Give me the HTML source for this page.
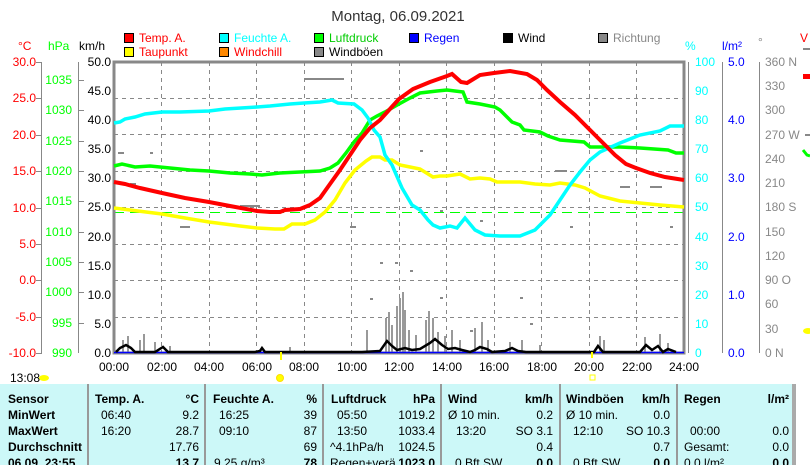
<!DOCTYPE html>
<html><head><meta charset="utf-8"><style>
body{margin:0;background:#fff;}
svg{display:block;font-family:"Liberation Sans",sans-serif;}
</style></head><body>
<svg width="810" height="465" viewBox="0 0 810 465" xmlns="http://www.w3.org/2000/svg">
<rect width="810" height="465" fill="#fff"/>
<text x="398" y="21" font-size="15" text-anchor="middle" fill="#333">Montag, 06.09.2021</text>
<!-- legend -->
<g font-size="12">
<rect x="124.5" y="33.5" width="9" height="9" fill="#f00" stroke="#000"/><text x="139" y="42" fill="#f00">Temp. A.</text>
<rect x="219.5" y="33.5" width="9" height="9" fill="#0ff" stroke="#000"/><text x="234" y="42" fill="#0ff">Feuchte A.</text>
<rect x="314.5" y="33.5" width="9" height="9" fill="#0f0" stroke="#000"/><text x="329" y="42" fill="#0c0">Luftdruck</text>
<rect x="409.5" y="33.5" width="9" height="9" fill="#00f" stroke="#000"/><text x="424" y="42" fill="#00f">Regen</text>
<rect x="503.5" y="33.5" width="9" height="9" fill="#000" stroke="#000"/><text x="518" y="42" fill="#000">Wind</text>
<rect x="598.5" y="33.5" width="9" height="9" fill="#888" stroke="#000"/><text x="613" y="42" fill="#888">Richtung</text>
<rect x="124.5" y="47.5" width="9" height="9" fill="#ff0" stroke="#000"/><text x="139" y="56" fill="#f00">Taupunkt</text>
<rect x="219.5" y="47.5" width="9" height="9" fill="#f80" stroke="#000"/><text x="234" y="56" fill="#f00">Windchill</text>
<rect x="314.5" y="47.5" width="9" height="9" fill="#888" stroke="#000"/><text x="329" y="56" fill="#000">Windböen</text>
</g>
<!-- axis units -->
<g font-size="12">
<text x="18" y="50" fill="#f00">°C</text><text x="48" y="50" fill="#0f0">hPa</text><text x="79" y="50" fill="#000">km/h</text>
<text x="685" y="50" fill="#0ff">%</text><text x="722" y="50" fill="#00f">l/m²</text><text x="758" y="46" fill="#888">°</text>
</g>
<!-- grid -->
<g stroke="#888" stroke-dasharray="4,4" stroke-width="1">
<line x1="114" y1="98.5" x2="684" y2="98.5"/><line x1="114" y1="134.5" x2="684" y2="134.5"/><line x1="114" y1="171.5" x2="684" y2="171.5"/><line x1="114" y1="207.5" x2="684" y2="207.5"/><line x1="114" y1="244.5" x2="684" y2="244.5"/><line x1="114" y1="280.5" x2="684" y2="280.5"/><line x1="114" y1="317.5" x2="684" y2="317.5"/>
<line x1="161.5" y1="62" x2="161.5" y2="353"/><line x1="209.5" y1="62" x2="209.5" y2="353"/><line x1="256.5" y1="62" x2="256.5" y2="353"/><line x1="304.5" y1="62" x2="304.5" y2="353"/><line x1="351.5" y1="62" x2="351.5" y2="353"/><line x1="399.5" y1="62" x2="399.5" y2="353"/><line x1="446.5" y1="62" x2="446.5" y2="353"/><line x1="494.5" y1="62" x2="494.5" y2="353"/><line x1="541.5" y1="62" x2="541.5" y2="353"/><line x1="589.5" y1="62" x2="589.5" y2="353"/><line x1="636.5" y1="62" x2="636.5" y2="353"/>
</g>
<line x1="114" y1="212.5" x2="684" y2="212.5" stroke="#0f0" stroke-dasharray="10,6"/>
<!-- frame -->
<rect x="114" y="62" width="570" height="291" fill="none" stroke="#888" stroke-width="3"/>
<!-- left axes -->
<g stroke="#888" fill="none"><line x1="41.5" y1="62" x2="41.5" y2="353"/><line x1="78.5" y1="62" x2="78.5" y2="353"/>
<line x1="688.5" y1="62" x2="688.5" y2="353"/><line x1="722.5" y1="62" x2="722.5" y2="353"/><line x1="759.5" y1="62" x2="759.5" y2="353"/></g>
<g font-size="12" fill="#f00" text-anchor="end">
<text x="36" y="66">30.0</text><text x="36" y="102">25.0</text><text x="36" y="139">20.0</text><text x="36" y="175">15.0</text><text x="36" y="212">10.0</text><text x="36" y="248">5.0</text><text x="36" y="284">0.0</text><text x="36" y="321">-5.0</text><text x="36" y="357">-10.0</text></g>
<g stroke="#888"><line x1="36" y1="62.5" x2="42" y2="62.5"/><line x1="36" y1="98.5" x2="42" y2="98.5"/><line x1="36" y1="135.5" x2="42" y2="135.5"/><line x1="36" y1="171.5" x2="42" y2="171.5"/><line x1="36" y1="208.5" x2="42" y2="208.5"/><line x1="36" y1="244.5" x2="42" y2="244.5"/><line x1="36" y1="280.5" x2="42" y2="280.5"/><line x1="36" y1="317.5" x2="42" y2="317.5"/><line x1="36" y1="353.5" x2="42" y2="353.5"/></g>
<g font-size="12" fill="#0f0" text-anchor="end">
<text x="72" y="84">1035</text><text x="72" y="114">1030</text><text x="72" y="145">1025</text><text x="72" y="175">1020</text><text x="72" y="205">1015</text><text x="72" y="236">1010</text><text x="72" y="266">1005</text><text x="72" y="296">1000</text><text x="72" y="327">995</text><text x="72" y="357">990</text></g>
<g stroke="#888"><line x1="78" y1="80.5" x2="84" y2="80.5"/><line x1="78" y1="110.5" x2="84" y2="110.5"/><line x1="78" y1="141.5" x2="84" y2="141.5"/><line x1="78" y1="171.5" x2="84" y2="171.5"/><line x1="78" y1="201.5" x2="84" y2="201.5"/><line x1="78" y1="232.5" x2="84" y2="232.5"/><line x1="78" y1="262.5" x2="84" y2="262.5"/><line x1="78" y1="292.5" x2="84" y2="292.5"/><line x1="78" y1="323.5" x2="84" y2="323.5"/></g>
<g font-size="12" fill="#000" text-anchor="end">
<text x="111" y="66">50.0</text><text x="111" y="95">45.0</text><text x="111" y="124">40.0</text><text x="111" y="153">35.0</text><text x="111" y="182">30.0</text><text x="111" y="211">25.0</text><text x="111" y="241">20.0</text><text x="111" y="270">15.0</text><text x="111" y="299">10.0</text><text x="111" y="328">5.0</text><text x="111" y="357">0.0</text></g>
<!-- right axes -->
<g font-size="12" fill="#0ff">
<text x="695" y="66">100</text><text x="695" y="95">90</text><text x="695" y="124">80</text><text x="695" y="153">70</text><text x="695" y="182">60</text><text x="695" y="211">50</text><text x="695" y="241">40</text><text x="695" y="270">30</text><text x="695" y="299">20</text><text x="695" y="328">10</text><text x="695" y="357">0</text></g>
<g font-size="12" fill="#00f"><text x="728" y="66">5.0</text><text x="728" y="124">4.0</text><text x="728" y="182">3.0</text><text x="728" y="241">2.0</text><text x="728" y="299">1.0</text><text x="728" y="357">0.0</text></g>
<g font-size="12" fill="#888">
<text x="765" y="66">360 N</text><text x="765" y="90">330</text><text x="765" y="114">300</text><text x="765" y="139">270 W</text><text x="765" y="163">240</text><text x="765" y="187">210</text><text x="765" y="211">180 S</text><text x="765" y="236">150</text><text x="765" y="260">120</text><text x="765" y="284">90 O</text><text x="765" y="308">60</text><text x="765" y="333">30</text><text x="765" y="357">0 N</text></g>
<!-- direction dots -->
<g fill="#888">
<rect x="304" y="78" width="40" height="2"/><rect x="118" y="152" width="6" height="2"/><rect x="150" y="152" width="3" height="2"/><rect x="180" y="226" width="10" height="2"/><rect x="350" y="226" width="6" height="2"/><rect x="420" y="150" width="3" height="2"/><rect x="410" y="270" width="3" height="2"/><rect x="440" y="210" width="3" height="2"/><rect x="455" y="227" width="3" height="2"/><rect x="480" y="220" width="3" height="2"/><rect x="555" y="170" width="12" height="2"/><rect x="570" y="226" width="3" height="2"/><rect x="620" y="186" width="10" height="2"/><rect x="650" y="186" width="12" height="2"/><rect x="670" y="226" width="3" height="2"/><rect x="380" y="262" width="3" height="2"/><rect x="395" y="262" width="3" height="2"/><rect x="440" y="297" width="3" height="2"/><rect x="370" y="298" width="3" height="2"/><rect x="520" y="297" width="3" height="2"/><rect x="530" y="323" width="3" height="2"/><rect x="470" y="330" width="3" height="2"/><rect x="240" y="205" width="20" height="2"/><rect x="130" y="183" width="6" height="2"/></g>
<!-- gusts -->
<g stroke="#999" stroke-width="2">
<line x1="123" y1="353" x2="123" y2="340"/><line x1="128" y1="353" x2="128" y2="336"/><line x1="140" y1="353" x2="140" y2="340"/><line x1="144" y1="353" x2="144" y2="334"/><line x1="155" y1="353" x2="155" y2="342"/><line x1="170" y1="353" x2="170" y2="346"/>
<line x1="290" y1="353" x2="290" y2="347"/>
<line x1="367" y1="353" x2="367" y2="330"/><line x1="386" y1="353" x2="386" y2="318"/><line x1="389" y1="353" x2="389" y2="312"/><line x1="392" y1="353" x2="392" y2="325"/><line x1="397" y1="353" x2="397" y2="306"/><line x1="400" y1="353" x2="400" y2="298"/><line x1="403" y1="353" x2="403" y2="292"/><line x1="405" y1="353" x2="405" y2="310"/><line x1="409" y1="353" x2="409" y2="330"/><line x1="416" y1="353" x2="416" y2="335"/>
<line x1="426" y1="353" x2="426" y2="320"/><line x1="429" y1="353" x2="429" y2="311"/><line x1="433" y1="353" x2="433" y2="318"/><line x1="438" y1="353" x2="438" y2="332"/><line x1="445" y1="353" x2="445" y2="336"/><line x1="452" y1="353" x2="452" y2="330"/><line x1="460" y1="353" x2="460" y2="340"/><line x1="475" y1="353" x2="475" y2="328"/><line x1="482" y1="353" x2="482" y2="322"/><line x1="488" y1="353" x2="488" y2="340"/>
<line x1="510" y1="353" x2="510" y2="342"/><line x1="522" y1="353" x2="522" y2="340"/><line x1="540" y1="353" x2="540" y2="345"/><line x1="600" y1="353" x2="600" y2="336"/><line x1="604" y1="353" x2="604" y2="340"/><line x1="645" y1="353" x2="645" y2="337"/><line x1="660" y1="353" x2="660" y2="334"/><line x1="668" y1="353" x2="668" y2="343"/></g>
<line x1="114" y1="352.5" x2="684" y2="352.5" stroke="#00f" stroke-width="1.5"/>
<!-- wind -->
<polyline fill="none" stroke="#000" stroke-width="2.5" points="116,352 120,348 126,345 131,348 135,352 155,352 163,347 168,352 255,352 260,351 262,348 265,352 362,352 380,351 387,341 392,346 397,350 405,348 412,350 420,349 430,343 435,339 442,345 448,349 455,348 462,350 470,352 475,350 480,347 487,349 492,352 505,351 512,348 518,351 526,352 545,352 594,352 598,346 603,352 640,352 646,345 652,350 658,346 663,352 668,349 676,352"/>
<!-- dewpoint -->
<polyline fill="none" stroke="#ff0" stroke-width="3.5" points="114,208 130,210 162,214 185,218 209,222 240,226 257,228 275,229 284,229 292,224 305,224 315,220 325,212 335,200 345,183 355,170 366,161 372,157 380,157 385,160 392,160 400,165 410,167 420,169 433,177 440,176 447,176 460,174 470,179 480,178 490,179 497,182 520,182 535,184 550,185 560,183 575,185 585,188 600,196 620,201 640,203 660,205 684,207"/>
<!-- pressure -->
<polyline fill="none" stroke="#0f0" stroke-width="3.5" points="114,166 122,164 135,167 150,166 170,168 190,170 209,171 230,173 250,174 262,175 280,173 300,172 320,171 330,168 338,163 346,153 354,142 362,133 370,120 377,116 385,112 399,104 410,98 420,93 437,91 447,90 463,92 467,102 480,104 495,107 500,110 507,117 512,122 520,125 524,130 540,132 548,136 560,140 584,142 590,147 600,147 620,147 640,148 668,150 676,153 684,153"/>
<!-- humidity -->
<polyline fill="none" stroke="#0ff" stroke-width="3.5" points="114,123 120,122 125,119 135,117 145,114 162,112 180,112 209,111 225,109 257,107 270,106 290,104 304,103 320,102 332,100 338,103 354,104 362,110 368,118 374,130 380,137 385,155 392,165 402,188 412,205 420,210 428,220 433,225 440,228 450,226 457,228 465,218 475,230 485,235 500,236 520,236 535,230 550,215 560,200 570,185 580,172 590,160 600,152 620,143 640,135 660,131 670,126 684,126"/>
<!-- temperature -->
<polyline fill="none" stroke="#f00" stroke-width="4" points="114,182 125,184 140,188 162,193 185,198 209,202 230,206 257,211 270,212 280,212 285,210 300,209 310,205 320,198 330,184 340,170 350,155 360,140 370,128 380,120 399,99 413,89 430,82 447,76 452,74 461,82 467,83 480,75 494,73 510,71 527,74 537,80 547,90 560,102 575,115 585,125 597,137 605,145 615,155 626,164 636,168 650,173 665,177 684,180"/>
<!-- time labels -->
<g font-size="12" fill="#000" text-anchor="middle">
<text x="114" y="371">00:00</text><text x="162" y="371">02:00</text><text x="209" y="371">04:00</text><text x="257" y="371">06:00</text><text x="304" y="371">08:00</text><text x="352" y="371">10:00</text><text x="399" y="371">12:00</text><text x="447" y="371">14:00</text><text x="494" y="371">16:00</text><text x="542" y="371">18:00</text><text x="589" y="371">20:00</text><text x="637" y="371">22:00</text><text x="684" y="371">24:00</text></g>
<text x="10" y="382" font-size="12" fill="#000">13:08</text>
<ellipse cx="44" cy="378" rx="5" ry="3" fill="#ff0"/>
<circle cx="280" cy="378" r="3.5" fill="#ff0" stroke="#fd0"/><rect x="280" y="352" width="2" height="8" fill="#ff0"/>
<rect x="590" y="375" width="5" height="5" fill="none" stroke="#ff0"/><rect x="591" y="352" width="2" height="6" fill="#ff0"/>
<!-- right edge fragments -->
<text x="800" y="42" font-size="12" fill="#f00">V</text><rect x="803" y="48" width="7" height="2" fill="#888"/>
<rect x="803" y="74" width="7" height="5" fill="#f00"/><rect x="805" y="134" width="5" height="2" fill="#888"/>
<polyline points="803,150 807,155 810,156" stroke="#0f0" stroke-width="3" fill="none"/>
<ellipse cx="808" cy="331" rx="5" ry="3" fill="#ff0"/>
<!-- table -->
<rect x="0" y="384" width="792" height="81" fill="#ccf8f8"/>
<rect x="792" y="384" width="4" height="81" fill="#aaa"/>
<g stroke="#999" stroke-width="2"><line x1="88" y1="384" x2="88" y2="465"/><line x1="205" y1="384" x2="205" y2="465"/><line x1="323" y1="384" x2="323" y2="465"/><line x1="441" y1="384" x2="441" y2="465"/><line x1="560" y1="384" x2="560" y2="465"/><line x1="677" y1="384" x2="677" y2="465"/></g>
<g font-size="12" fill="#000">
<g font-weight="bold"><text x="8" y="403">Sensor</text><text x="8" y="419">MinWert</text><text x="8" y="435">MaxWert</text><text x="8" y="451">Durchschnitt</text><text x="8" y="467">06.09. 23:55</text>
<text x="95" y="403">Temp. A.</text><text x="213" y="403">Feuchte A.</text><text x="331" y="403">Luftdruck</text><text x="448" y="403">Wind</text><text x="566" y="403">Windböen</text><text x="684" y="403">Regen</text></g>
<g font-weight="bold" text-anchor="end"><text x="199" y="403">°C</text><text x="317" y="403">%</text><text x="435" y="403">hPa</text><text x="553" y="403">km/h</text><text x="670" y="403">km/h</text><text x="789" y="403">l/m²</text>
<text x="199" y="467">13.7</text><text x="317" y="467">78</text><text x="435" y="467">1023.0</text><text x="553" y="467">0.0</text><text x="670" y="467">0.0</text><text x="789" y="467">0.0</text></g>
<text x="101" y="419">06:40</text><text x="101" y="435">16:20</text><text x="219" y="419">16:25</text><text x="219" y="435">09:10</text><text x="214" y="467">9.25 g/m³</text>
<text x="337" y="419">05:50</text><text x="337" y="435">13:50</text><text x="330" y="451">^4.1hPa/h</text><text x="330" y="467">Regen+verä</text>
<text x="448" y="419">Ø 10 min.</text><text x="456" y="435">13:20</text><text x="455" y="467">0 Bft SW</text>
<text x="566" y="419">Ø 10 min.</text><text x="573" y="435">12:10</text><text x="573" y="467">0 Bft SW</text>
<text x="690" y="435">00:00</text><text x="684" y="451">Gesamt:</text><text x="684" y="467">0.0 l/m²</text>
<g text-anchor="end"><text x="199" y="419">9.2</text><text x="199" y="435">28.7</text><text x="199" y="451">17.76</text>
<text x="317" y="419">39</text><text x="317" y="435">87</text><text x="317" y="451">69</text>
<text x="435" y="419">1019.2</text><text x="435" y="435">1033.4</text><text x="435" y="451">1024.5</text>
<text x="553" y="419">0.2</text><text x="553" y="435">SO 3.1</text><text x="553" y="451">0.4</text>
<text x="670" y="419">0.0</text><text x="670" y="435">SO 10.3</text><text x="670" y="451">0.7</text>
<text x="789" y="435">0.0</text><text x="789" y="451">0.0</text></g>
</g>
</svg>
</body></html>
